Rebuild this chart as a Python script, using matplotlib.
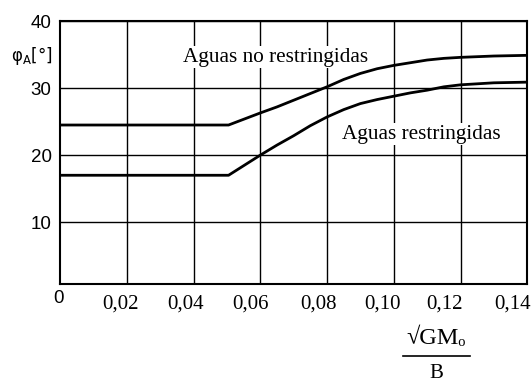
import matplotlib
matplotlib.use("Agg")
import matplotlib.pyplot as plt
from matplotlib.transforms import ScaledTranslation

# curves read as phi_A [deg] against sqrt(GMo)/B
x_pts = [0.0, 0.0505, 0.06, 0.065, 0.07, 0.075, 0.08, 0.085, 0.09, 0.095,
         0.10, 0.105, 0.11, 0.115, 0.12, 0.13, 0.14]
phi_libre = [24.5, 24.5, 26.3, 27.2, 28.2, 29.2, 30.2, 31.3, 32.2, 32.9,
             33.4, 33.8, 34.2, 34.45, 34.6, 34.8, 34.9]
phi_restr = [17.0, 17.0, 20.0, 21.5, 22.9, 24.4, 25.7, 26.8, 27.7, 28.3,
             28.8, 29.3, 29.7, 30.2, 30.5, 30.8, 30.9]

x_ticks = [0.02, 0.04, 0.06, 0.08, 0.10, 0.12, 0.14]
x_labels = ["0,02", "0,04", "0,06", "0,08", "0,10", "0,12", "0,14"]
x_label_shift = [-6, -8, -10, -9, -11, -16, -15]  # px, labels sit left of grid
y_ticks = [10, 20, 30, 40]

serif = "Liberation Serif"
sans = "Liberation Sans"

fig = plt.figure(figsize=(5.31, 3.85), dpi=100)
ax = fig.add_axes([0.113, 0.262, 0.880, 0.683])

ax.plot(x_pts, phi_libre, color="black", lw=2.0, solid_capstyle="butt")
ax.plot(x_pts, phi_restr, color="black", lw=2.0, solid_capstyle="butt")

ax.set_xlim(0, 0.14)
ax.set_ylim(0.75, 40)
ax.set_xticks(x_ticks)
ax.set_xticklabels([])
ax.set_yticks(y_ticks)
ax.set_yticklabels([str(v) for v in y_ticks], fontfamily=sans, fontsize=13.5)
ax.tick_params(length=0, pad=6)
ax.grid(True, color="black", lw=1.0)
for s in ax.spines.values():
    s.set_linewidth(1.5)

# x tick labels drawn by hand, each nudged a little to the left
for xv, lab, dx in zip(x_ticks, x_labels, x_label_shift):
    tr = ax.get_xaxis_transform() + ScaledTranslation(dx / 100, 0, fig.dpi_scale_trans)
    ax.text(xv, -0.075, lab, transform=tr, ha="center", va="center",
            fontfamily=serif, fontsize=15, clip_on=False)

# origin label under the corner
ax.text(-0.003, -0.053, "0", transform=ax.transAxes, ha="center", va="center",
        fontfamily=sans, fontsize=13.5)

# axis title on the left
fig.text(0.020, 0.855, r"φ$_\mathsf{A}$[°]", fontfamily="DejaVu Sans", fontsize=12,
         ha="left", va="center")

ax.text(0.0370, 34.6, "Aguas no restringidas", fontfamily=serif, fontsize=15.3,
        ha="left", va="center", bbox=dict(facecolor="white", edgecolor="none", pad=1))
ax.text(0.0846, 23.1, "Aguas restringidas", fontfamily=serif, fontsize=15.3,
        ha="left", va="center", bbox=dict(facecolor="white", edgecolor="none", pad=1))

# x label as a fraction
fig.text(0.821, 0.122, "√GMₒ", fontfamily=serif, fontsize=17.5, ha="center", va="center")
fig.add_artist(plt.Line2D([0.759, 0.885], [0.075, 0.075], color="black", lw=1.2))
fig.text(0.821, 0.005, "B", fontfamily=serif, fontsize=15, ha="center", va="bottom")

fig.savefig("out.png", dpi=100, facecolor="white")
